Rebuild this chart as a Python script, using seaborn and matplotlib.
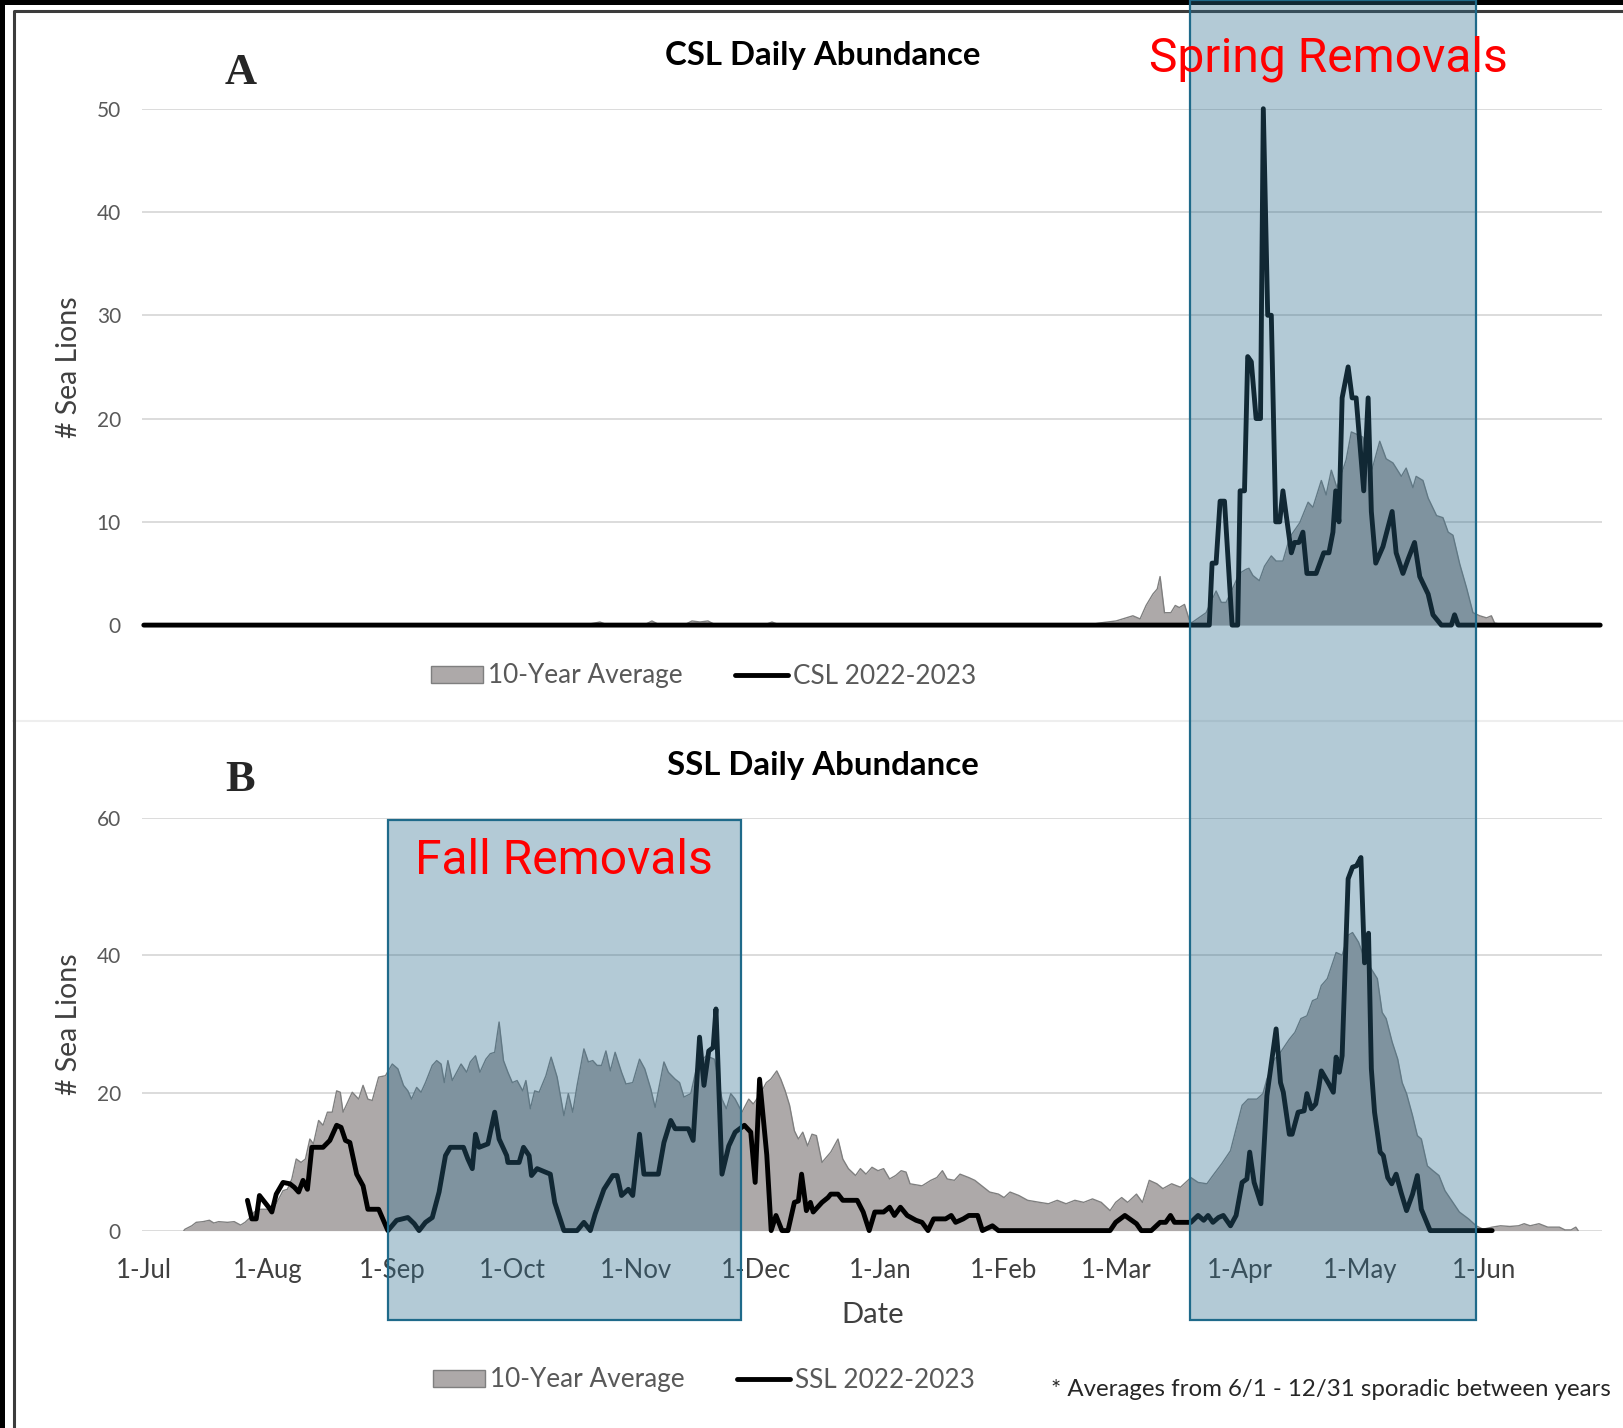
import matplotlib
matplotlib.use("Agg")
import numpy as np
import pandas as pd
import matplotlib.pyplot as plt
import seaborn as sns
from matplotlib.patches import Rectangle, Patch
from matplotlib.lines import Line2D
from matplotlib.transforms import blended_transform_factory

sns.set_theme(style="white")
plt.rcParams["font.family"] = ["Lato", "DejaVu Sans"]

# ---------------------------------------------------------------------------
# Data: days counted from 1-Jul-2022, counts of sea lions per day
# ---------------------------------------------------------------------------
SEASON_START = pd.Timestamp("2022-07-01")
month_starts = pd.date_range("2022-07-01", "2023-06-01", freq="MS")
tick_days = list((month_starts - SEASON_START).days)
tick_labels = [f"{d.day}-{d:%b}" for d in month_starts]

# Removal windows (days from season start)
fall_window = (61.0, 149.3)
spring_window = (261.5, 332.9)

# CSL 10-year average
csl_avg_day = [0, 110, 114, 116, 125, 127, 129, 135, 137, 139, 141, 143, 155, 157, 159, 236,
               238.8, 243, 247.2, 249, 250.5, 252.2, 253.3, 254.0, 255.1, 256.7, 257.8, 258.8,
               260.1, 261.3, 261.8, 265.5, 268.0, 269.3, 270.5, 272.2, 273.8, 275.5, 276.2,
               277.2, 278.8, 280.1, 281.8, 283.0, 284.7, 286.4, 288.9, 291.0, 292.2, 294.3,
               295.5, 296.8, 298.2, 300.5, 301.8, 303.0, 304.7, 306.5, 308.9, 310.5, 312.2,
               314.3, 315.5, 317.2, 318.0, 319.7, 321.0, 323.1, 324.7, 326.0, 327.2, 328.9,
               330.6, 332.2, 333.9, 335.6, 336.8, 337.6, 340, 364]
csl_avg = [0, 0, 0.3, 0, 0, 0.4, 0, 0, 0.4, 0.3, 0.4, 0, 0, 0.3, 0, 0,
           0.2, 0.4, 0.9, 0.6, 1.9, 3.0, 3.5, 4.7, 1.2, 1.2, 1.9, 1.7,
           2.0, 0.5, 0.2, 1.2, 3.3, 2.2, 2.2, 3.6, 5.0, 5.4, 5.5,
           4.8, 4.3, 5.7, 6.7, 6.2, 6.2, 8.5, 9.9, 11.9, 11.4, 14.0,
           12.6, 15.0, 13.3, 16.0, 18.7, 18.5, 18.2, 14.4, 17.8, 16.1, 15.7,
           14.4, 15.2, 13.3, 14.4, 14.0, 12.3, 10.6, 10.4, 9.0, 8.7, 5.9,
           3.6, 1.2, 0.9, 0.7, 0.9, 0.2, 0, 0]

# CSL 2022-2023 daily counts
csl_day = [0, 266.3, 267.0, 268.0, 269.0, 270.1, 272.0, 273.4, 274.0, 275.1, 275.9, 276.8,
           278.0, 279.1, 279.8, 280.9, 281.8, 282.9, 283.9, 284.7, 286.8, 287.6, 288.7,
           289.7, 290.7, 293.0, 294.9, 296.2, 297.2, 297.9, 298.7, 299.5, 301.0, 302.0,
           303.0, 304.9, 306.0, 306.8, 307.9, 309.7, 312.0, 313.0, 314.7, 316.0, 317.6,
           318.9, 321.0, 322.2, 324.3, 326.8, 327.6, 328.5, 364]
csl_count = [0, 0, 6, 6, 12, 12, 0, 0, 13, 13, 26, 25.5,
             20, 20, 50, 30, 30, 10, 10, 13, 7, 8, 8,
             9, 5, 5, 7, 7, 9, 13, 10, 22, 25, 22,
             22, 13, 22, 11, 6, 7.6, 11, 7, 5, 6.4, 8,
             4.7, 3, 1, 0, 0, 1, 0, 0]

# SSL 10-year average
ssl_avg_day = [10.0, 10.3, 12.0, 13.1, 14.8, 16.4, 17.5, 18.7, 20.9, 22.6, 24.2, 25.3, 26.4,
               27.6, 29.2, 31.5, 33.1, 34.8, 35.9, 37.0, 38.1, 39.3, 40.4, 41.5, 42.4, 43.7,
               44.8, 45.9, 47.1, 48.2, 49.1, 49.8, 51.3, 52.1, 53.7, 54.8, 56.0, 57.1, 58.7,
               60.4, 62.1, 63.5, 64.9, 66.0, 66.9, 68.2, 69.3, 70.4, 72.1, 73.2, 74.3, 75.1,
               76.0, 77.1, 78.2, 79.3, 80.7, 81.6, 82.9, 84.0, 85.5, 86.6, 87.7, 88.8, 89.9,
               91.0, 92.1, 93.3, 94.7, 95.5, 96.6, 97.7, 98.8, 100.5, 101.8, 103.3, 105.0,
               106.1, 107.2, 108.3, 110.0, 111.1, 112.2, 113.3, 114.4, 115.5, 116.6, 117.8,
               119.4, 120.5, 122.2, 123.9, 125.2, 126.7, 127.8, 130.0, 131.1, 132.8, 133.9,
               135.0, 136.7, 138.1, 139.3, 140.6, 142.6, 143.4, 144.5, 145.6, 146.7, 147.8,
               149.5, 151.2, 152.3, 152.6, 154.1, 155.6, 156.7, 158.2, 159.2, 160.3, 161.4,
               162.6, 163.6, 164.7, 165.9, 167.0, 168.1, 169.5, 171.7, 173.5, 174.7, 176.1,
               177.9, 179.1, 180.5, 182.0, 183.5, 184.9, 186.4, 187.9, 189.3, 190.5, 191.5,
               194.5, 196.7, 198.2, 199.6, 200.8, 202.6, 204.0, 206.2, 207.7, 209.9, 211.4,
               213.6, 215.0, 216.5, 218.7, 220.9, 223.9, 226.1, 228.3, 230.5, 232.7, 234.9,
               237.1, 239.3, 241.5, 242.9, 244.4, 245.9, 248.1, 249.6, 251.3, 253.2, 254.7,
               256.9, 259.1, 261.7, 263.5, 265.7, 267.2, 269.4, 271.6, 273.0, 274.5, 276.0,
               278.2, 279.7, 280.7, 282.6, 284.1, 286.3, 287.7, 289.2, 290.7, 292.1, 293.3,
               294.3, 295.8, 298.0, 299.5, 301.0, 302.1, 303.6, 305.1, 306.8, 308.3, 309.5,
               310.5, 312.0, 313.4, 314.5, 315.6, 317.1, 318.3, 319.3, 320.8, 322.2, 323.7,
               325.2, 326.6, 328.8, 331.1, 333.0, 334.7, 337.0, 339.1, 341.4, 343.6, 345.0,
               346.5, 348.7, 350.9, 353.8, 355.2, 356.7, 357.9, 358.5]
ssl_avg = [0, 0.2, 0.7, 1.2, 1.3, 1.5, 1.1, 1.3, 1.2, 1.3, 0.8, 1.2, 1.8,
           2.7, 3.1, 3.1, 3.9, 5.8, 6.0, 7.5, 10.4, 9.9, 10.4, 13.3, 12.6, 16.0,
           15.3, 17.2, 17.2, 20.3, 20.1, 17.2, 19.1, 20.1, 19.1, 21.1, 19.1, 18.9, 22.3,
           22.5, 24.2, 23.5, 21.1, 20.3, 19.1, 20.8, 20.1, 21.5, 24.0, 24.7, 24.2, 21.5,
           24.7, 21.8, 23.0, 24.2, 23.0, 24.5, 25.4, 23.0, 24.9, 25.7, 25.9, 30.3, 24.7,
           23.0, 21.5, 21.8, 20.3, 21.8, 17.7, 20.3, 20.1, 22.5, 25.2, 22.3, 16.7,
           19.9, 17.2, 21.1, 26.4, 24.5, 24.7, 24.0, 24.0, 26.1, 23.2, 25.9,
           23.0, 21.3, 21.5, 24.9, 23.5, 20.6, 17.9, 24.5, 23.0, 22.0, 21.5,
           19.4, 19.9, 23.5, 24.7, 25.4, 24.9, 22.5, 19.1, 17.7, 19.9, 19.1,
           17.2, 19.1, 18.4, 18.6, 19.9, 21.5, 22.0, 23.2, 22.0, 20.3, 18.2,
           14.5, 13.3, 14.3, 12.3, 14.0, 13.8, 9.9, 11.4, 13.3, 10.4, 9.0,
           8.0, 9.0, 8.2, 9.2, 8.7, 9.0, 7.5, 8.0, 8.7, 8.5, 6.8,
           6.5, 7.3, 7.7, 8.7, 7.5, 7.3, 8.2, 7.7, 7.3, 6.3, 5.6,
           5.3, 4.8, 5.6, 5.1, 4.4, 4.1, 3.9, 4.4, 3.9, 4.4, 4.1,
           4.6, 4.1, 2.9, 4.1, 4.8, 4.1, 5.3, 4.1, 7.3, 6.8, 6.1,
           6.8, 6.3, 7.7, 7.0, 6.8, 8.0, 9.7, 11.6, 14.8, 18.2, 19.1,
           19.1, 19.9, 22.0, 24.9, 25.9, 27.8, 28.8, 30.8, 31.2, 33.4, 33.7,
           35.6, 36.6, 40.4, 40.0, 42.9, 43.3, 41.9, 39.5, 38.0, 36.6, 31.7,
           30.8, 27.4, 24.9, 21.5, 19.9, 16.7, 13.8, 13.3, 9.4, 8.7, 8.0,
           5.8, 4.6, 2.7, 1.7, 0.7, 0.2, 0.5, 0.7, 0.6, 0.7, 1.0,
           0.7, 1.0, 0.5, 0.5, 0.1, 0.1, 0.5, 0]

# SSL 2022-2023 daily counts
ssl_day = [25.9, 27.0, 28.1, 28.9, 30.1, 31.2, 32.0, 33.1, 34.8, 36.5, 37.6, 38.7, 39.8, 40.9,
           42.0, 44.8, 46.5, 48.2, 49.3, 50.4, 51.5, 53.2, 54.8, 56.0, 58.7, 61.0, 63.2, 66.0,
           67.6, 68.8, 70.4, 72.1, 73.8, 75.4, 76.6, 79.9, 81.0, 82.1, 82.9, 83.8, 86.0, 87.7,
           88.8, 90.7, 91.0, 93.8, 94.9, 96.3, 96.9, 98.3, 101.6, 102.7, 105.0, 108.3, 110.0,
           111.6, 112.8, 115.0, 117.2, 118.3, 119.4, 121.1, 122.2, 123.9, 125.0, 128.6, 130.0,
           131.7, 132.8, 136.1, 137.3, 138.9, 140.0, 141.2, 142.3, 143.0, 144.5, 146.2, 147.8,
           150.1, 151.7, 152.8, 153.9, 155.7, 156.8, 158.0, 159.5, 161.0, 162.6, 163.6, 164.4,
           165.6, 166.6, 167.3, 169.5, 171.0, 171.7, 173.5, 174.7, 178.3, 179.8, 181.3, 182.7,
           184.9, 186.4, 187.6, 189.1, 190.8, 193.0, 194.5, 196.0, 197.4, 200.4, 201.8, 202.9,
           204.8, 206.2, 208.4, 209.6, 212.1, 213.6, 241.5, 242.9, 245.2, 248.1, 249.3, 251.8,
           254.0, 255.4, 256.6, 257.6, 261.7, 263.5, 264.9, 266.0, 267.2, 268.6, 269.8, 271.6,
           273.0, 274.5, 275.7, 276.4, 277.5, 279.2, 280.7, 283.0, 284.1, 284.8, 286.3, 287.0,
           288.5, 290.0, 290.7, 291.8, 292.9, 293.6, 294.3, 296.2, 297.3, 298.0, 298.8, 299.5,
           301.0, 302.1, 303.1, 304.2, 305.1, 306.1, 306.8, 307.6, 309.0, 309.8, 310.9, 311.9,
           313.0, 314.2, 315.6, 317.1, 318.3, 319.3, 321.5, 337.0]
ssl_count = [4.4, 1.7, 1.7, 5.1, 4.2, 3.4, 2.7, 5.3, 7.0, 6.8, 6.3, 5.6, 7.3, 6.0,
             12.1, 12.1, 13.1, 15.3, 15.0, 13.1, 12.8, 8.2, 6.5, 3.1, 3.1, 0, 1.5, 1.9,
             1.0, 0, 1.2, 1.9, 5.6, 10.9, 12.1, 12.1, 10.4, 9.0, 14.0, 12.1, 12.6, 17.2,
             13.3, 10.9, 9.9, 9.9, 12.1, 10.9, 8.0, 9.0, 8.2, 4.1, 0, 0, 1.2,
             0, 2.4, 6.0, 8.0, 8.0, 5.1, 6.0, 5.1, 14.0, 8.2, 8.2, 12.8,
             16.0, 14.8, 14.8, 13.1, 28.1, 21.1, 26.1, 26.6, 32.2, 8.2, 12.3, 14.3,
             15.3, 14.3, 7.0, 22.0, 11.0, 0, 2.2, 0, 0, 4.1, 4.3, 8.2,
             2.9, 4.1, 2.7, 4.1, 4.8, 5.3, 5.3, 4.4, 4.4, 2.7, 0, 2.7,
             2.7, 3.4, 2.2, 3.4, 2.2, 1.5, 1.2, 0, 1.7, 1.7, 2.2, 1.2,
             1.7, 2.2, 2.2, 0, 0.7, 0, 0, 1.2, 2.2, 1.0, 0, 0,
             1.2, 1.2, 2.2, 1.2, 1.2, 2.2, 1.5, 2.2, 1.2, 1.9, 2.2, 0.7,
             2.2, 7.0, 7.5, 11.4, 7.0, 3.9, 19.6, 29.3, 21.5, 20.1, 14.0, 14.0,
             17.2, 17.4, 19.9, 17.7, 18.4, 20.6, 23.2, 21.3, 20.1, 25.2, 23.0, 25.4,
             51.1, 52.8, 53.0, 54.2, 38.9, 43.2, 23.5, 17.2, 11.4, 10.9, 7.7, 6.8,
             8.2, 5.6, 2.9, 5.3, 8.0, 3.1, 0, 0]

# ---------------------------------------------------------------------------
# Styling
# ---------------------------------------------------------------------------
AVG_FILL = "#ADA9A9"
AVG_EDGE = "#7F7F7F"
GRID = "#D9D9D9"
BOX_FACE = (47 / 255, 110 / 255, 143 / 255, 0.366)
BOX_EDGE = "#1F6A8A"
COUNT_LW = 3.5
W, H = 1623, 1428

fig = plt.figure(figsize=(W / 100, H / 100), dpi=100)
fig.patch.set_facecolor("white")


def axes_px(left, top, right, bottom):
    return fig.add_axes([left / W, 1 - bottom / H, (right - left) / W, (bottom - top) / H])


def draw_panel(ax, avg_day, avg, cnt_day, cnt, ymax, ystep):
    ax.fill_between(avg_day, avg, 0, color=AVG_FILL, linewidth=0, zorder=2)
    sns.lineplot(x=avg_day, y=avg, ax=ax, color=AVG_EDGE, linewidth=1.0,
                 estimator=None, sort=False, zorder=3)
    sns.lineplot(x=cnt_day, y=cnt, ax=ax, color="black", linewidth=COUNT_LW,
                 estimator=None, sort=False, zorder=4, solid_joinstyle="round")
    ax.lines[-1].set_clip_on(False)
    ax.set_xlim(-0.5, 364.5)
    ax.set_ylim(0, ymax)
    ax.set_yticks(np.arange(0, ymax + 1, ystep))
    ax.yaxis.grid(True, color=GRID, linewidth=1.3)
    ax.xaxis.grid(False)
    ax.set_axisbelow(True)
    for s in ax.spines.values():
        s.set_visible(False)
    ax.tick_params(axis="y", length=0, pad=15, labelsize=15, labelcolor="#595959")
    ax.set_ylabel("# Sea Lions", fontsize=20.5, color="#404040", va="center")
    ax.yaxis.set_label_coords((69 - 141.8) / 1460.4, 0.5)
    ax.set_xlabel("")


axA = axes_px(141.8, 108.7, 1602.2, 625.1)
axB = axes_px(141.8, 817.6, 1602.2, 1230.6)

draw_panel(axA, csl_avg_day, csl_avg, csl_day, csl_count, 50, 10)
draw_panel(axB, ssl_avg_day, ssl_avg, ssl_day, ssl_count, 60, 20)

axA.set_xticks([])
axB.set_xticks(tick_days)
axB.set_xticklabels(tick_labels)
axB.tick_params(axis="x", length=0, pad=20, labelsize=18.5, labelcolor="#404040")

# Legends
for ax, label, ypx, xpx in [(axA, "CSL 2022-2023", 676, 431), (axB, "SSL 2022-2023", 1380, 433)]:
    handles = [Patch(facecolor=AVG_FILL, edgecolor=AVG_EDGE, linewidth=1.0),
               Line2D([], [], color="black", linewidth=COUNT_LW)]
    leg = ax.legend(handles, ["10-Year Average", label], loc="center left",
                    bbox_to_anchor=(xpx / W, 1 - ypx / H), bbox_transform=fig.transFigure,
                    ncol=2, frameon=False, fontsize=18.8, handlelength=2.0, handleheight=0.62,
                    handletextpad=0.2, columnspacing=2.0, borderpad=0, borderaxespad=0)
    for t in leg.get_texts():
        t.set_color("#595959")

# Titles and panel letters
fig.text(823 / W, 1 - 56 / H, "CSL Daily Abundance", ha="center", va="center",
         fontsize=23.8, fontweight="bold", color="black")
fig.text(823 / W, 1 - 766 / H, "SSL Daily Abundance", ha="center", va="center",
         fontsize=23.8, fontweight="bold", color="black")
fig.text(241 / W, 1 - 73 / H, "A", ha="center", va="center", fontsize=32,
         fontweight="bold", family="Liberation Serif")
fig.text(240 / W, 1 - 780 / H, "B", ha="center", va="center", fontsize=32,
         fontweight="bold", family="Liberation Serif")
fig.text(873 / W, 1 - 1315 / H, "Date", ha="center", va="center", fontsize=21, color="#404040")
fig.text(1051 / W, 1 - 1390 / H, "* Averages from 6/1 - 12/31 sporadic between years",
         ha="left", va="center", fontsize=17.3, color="#262626")

# Panel separator and outer frame
fig.add_artist(Line2D([13 / W, 1], [1 - 721 / H] * 2, transform=fig.transFigure,
                      color="#EEEEEE", linewidth=1.5, zorder=1))
fig.add_artist(Rectangle((0, 1 - 5 / H), 1, 5 / H, transform=fig.transFigure,
                         facecolor="black", edgecolor="none", zorder=1))
fig.add_artist(Rectangle((0, 0), 5 / W, 1, transform=fig.transFigure,
                         facecolor="black", edgecolor="none", zorder=1))
fig.add_artist(Line2D([14.5 / W, 14.5 / W, 1], [0, 1 - 10.5 / H, 1 - 10.5 / H],
                      transform=fig.transFigure, color="#3C3C3C", linewidth=2.2, zorder=1))

# Removal windows, shared date scale with a figure-height extent
trans = blended_transform_factory(axB.transData, fig.transFigure)
box_bottom = 1 - 1320 / H
fig.add_artist(Rectangle((spring_window[0], box_bottom), spring_window[1] - spring_window[0],
                         1 - box_bottom, transform=trans, facecolor=BOX_FACE,
                         edgecolor=BOX_EDGE, linewidth=1.6, zorder=3))
fig.add_artist(Rectangle((fall_window[0], box_bottom), fall_window[1] - fall_window[0],
                         (1 - 820 / H) - box_bottom, transform=trans, facecolor=BOX_FACE,
                         edgecolor=BOX_EDGE, linewidth=1.6, zorder=3))

fig.text(1328 / W, 1 - 59 / H, "Spring Removals", ha="center", va="center",
         fontsize=34.6, color="#FF0000", family="Roboto", zorder=5)
fig.text(564 / W, 1 - 861 / H, "Fall Removals", ha="center", va="center",
         fontsize=34.6, color="#FF0000", family="Roboto", zorder=5)

fig.savefig("out.png", dpi=100)
